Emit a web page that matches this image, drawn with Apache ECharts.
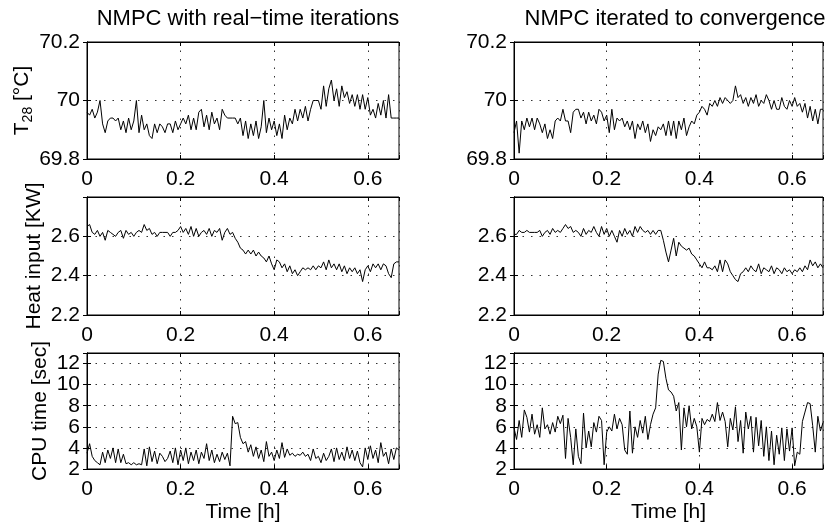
<!DOCTYPE html>
<html><head><meta charset="utf-8">
<script src="https://cdn.jsdelivr.net/npm/echarts@6/dist/echarts.min.js"></script>
<style>html,body{margin:0;padding:0;background:#fff}#c{width:826px;height:524px}</style>
</head><body><div id="c"></div><script>
// ---- data ----
const nSamples = 121;
const sampleStepHours = 1 / 180;
const timeMaxHours = 2 / 3;
const timeHours = Array.from({length: nSamples}, (_, i) => i * sampleStepHours);
const panelTitles = ['NMPC with real\u2212time iterations', 'NMPC iterated to convergence'];
const xAxisLabel = 'Time [h]';
const xTickValues = [0, 0.2, 0.4, 0.6];
const tempTicks = [69.8, 70, 70.2];
const heatTicks = [2.2, 2.4, 2.6];
const cpuTicks = [2, 4, 6, 8, 10, 12];

const tempRT = [69.96,69.95,69.97,69.94,69.96,70.0,69.92,69.89,69.93,69.94,
69.94,69.93,69.94,69.90,69.93,69.89,69.94,69.90,69.93,70.0,
69.89,69.95,69.90,69.92,69.88,69.87,69.92,69.89,69.92,69.91,
69.89,69.92,69.92,69.89,69.93,69.90,69.92,69.94,69.92,69.95,
69.90,69.94,69.90,69.96,69.97,69.91,69.95,69.90,69.96,69.92,
69.94,69.90,69.97,69.95,69.94,69.94,69.94,69.94,69.92,69.94,
69.88,69.93,69.87,69.92,69.88,69.93,69.87,69.91,70.0,69.89,
69.94,69.90,69.93,69.88,69.92,69.87,69.95,69.90,69.94,69.92,
69.97,69.93,69.97,69.94,69.98,69.93,69.97,70.0,70.0,70.0,
69.97,70.05,69.98,70.04,70.07,70.0,70.04,69.98,70.05,70.01,
70.03,69.99,70.02,69.98,70.02,69.97,70.02,69.97,70.01,69.95,
69.97,69.94,69.99,69.95,70.0,69.94,70.02,69.94,69.94,69.94,
69.94];
const tempConv = [69.89,69.93,69.82,69.93,69.90,69.94,69.91,69.94,69.90,69.94,
69.92,69.89,69.92,69.87,69.90,69.87,69.93,69.94,69.93,69.97,
69.93,69.93,69.89,69.96,69.97,69.97,69.94,69.96,69.92,69.96,
69.93,69.95,69.92,69.97,69.96,69.93,69.95,69.89,69.97,69.90,
69.94,69.93,69.94,69.91,69.93,69.90,69.93,69.87,69.92,69.90,
69.93,69.89,69.92,69.86,69.90,69.88,69.91,69.90,69.92,69.88,
69.93,69.88,69.93,69.87,69.93,69.90,69.94,69.88,69.91,69.93,
69.92,69.95,69.96,69.98,69.97,69.95,69.99,69.98,70.0,69.98,
70.01,69.99,70.01,70.0,69.99,70.0,70.05,70.01,70.02,69.99,
70.01,69.98,70.01,69.99,70.02,69.98,70.0,69.99,70.02,70.0,
69.97,70.0,69.97,69.97,70.01,69.98,69.97,70.0,69.98,70.01,
69.98,69.99,69.96,69.99,69.94,69.98,69.93,69.97,69.92,69.97,
69.97];
const heatRT = [2.65,2.66,2.62,2.61,2.63,2.60,2.62,2.58,2.63,2.62,
2.61,2.60,2.62,2.63,2.59,2.63,2.61,2.62,2.60,2.62,
2.63,2.62,2.66,2.63,2.64,2.61,2.62,2.60,2.62,2.62,
2.62,2.62,2.60,2.62,2.62,2.63,2.65,2.62,2.64,2.61,
2.65,2.60,2.64,2.60,2.62,2.63,2.61,2.64,2.60,2.63,
2.62,2.64,2.58,2.62,2.64,2.61,2.62,2.59,2.57,2.54,
2.53,2.51,2.53,2.51,2.53,2.50,2.52,2.50,2.49,2.47,
2.50,2.46,2.43,2.48,2.47,2.44,2.46,2.42,2.45,2.41,
2.43,2.40,2.42,2.44,2.43,2.44,2.43,2.45,2.43,2.45,
2.44,2.47,2.43,2.48,2.44,2.46,2.43,2.46,2.42,2.45,
2.41,2.44,2.42,2.44,2.41,2.43,2.37,2.43,2.45,2.42,
2.46,2.44,2.46,2.43,2.46,2.45,2.41,2.39,2.46,2.47,
2.47];
const heatConv = [2.61,2.61,2.63,2.62,2.62,2.63,2.62,2.62,2.62,2.62,
2.63,2.60,2.62,2.63,2.61,2.64,2.62,2.63,2.62,2.64,
2.66,2.64,2.65,2.62,2.63,2.62,2.60,2.64,2.61,2.63,
2.62,2.65,2.62,2.60,2.65,2.61,2.64,2.60,2.63,2.60,
2.57,2.63,2.60,2.64,2.61,2.63,2.60,2.65,2.62,2.65,
2.63,2.62,2.63,2.61,2.63,2.61,2.63,2.63,2.58,2.52,
2.47,2.53,2.59,2.50,2.57,2.55,2.54,2.53,2.54,2.51,
2.50,2.48,2.46,2.44,2.47,2.44,2.44,2.43,2.45,2.42,
2.48,2.42,2.48,2.46,2.42,2.40,2.38,2.37,2.41,2.42,
2.44,2.42,2.45,2.43,2.42,2.46,2.41,2.44,2.43,2.42,
2.45,2.41,2.44,2.43,2.41,2.44,2.42,2.43,2.41,2.43,
2.42,2.44,2.42,2.45,2.43,2.48,2.45,2.47,2.44,2.46,
2.44];
const cpuRT = [3.5,4.4,3.2,2.8,2.6,2.4,3.6,2.6,3.8,3.0,
4.0,2.6,3.9,2.6,3.4,2.5,2.6,2.4,2.6,2.4,
2.5,2.4,3.9,2.3,4.1,2.7,3.7,2.5,3.5,3.2,
2.7,3.0,3.7,2.6,4.0,2.4,3.8,2.8,4.0,2.5,
3.6,2.8,3.8,2.5,3.6,3.0,4.4,2.8,3.8,2.6,
3.4,2.7,3.6,2.9,3.5,2.3,7.0,6.3,6.4,5.0,
4.4,4.6,3.6,4.3,3.2,4.1,3.0,3.8,2.7,4.6,
3.2,3.6,2.8,3.8,3.0,4.5,3.1,3.9,3.3,3.5,
3.2,3.4,3.3,3.6,3.2,3.4,2.8,3.9,3.0,3.2,
2.6,3.5,2.8,3.2,3.9,2.7,4.0,2.9,3.6,2.8,
4.1,3.0,3.8,2.8,3.7,2.6,2.2,4.0,2.9,4.2,
3.0,3.8,2.6,4.5,3.2,3.6,2.5,3.9,2.9,4.0,
3.8];
const cpuConv = [5.9,4.8,6.6,5.0,7.6,6.9,5.5,7.2,5.3,6.2,
5.0,7.8,5.8,6.2,5.3,6.4,5.5,7.0,6.3,7.1,
3.0,6.8,5.0,2.4,5.8,3.2,2.5,7.3,4.0,5.6,
4.1,6.4,5.5,7.0,6.6,2.4,5.5,6.0,5.6,7.2,
5.8,6.8,6.2,3.8,3.4,7.5,3.5,6.0,5.0,6.6,
5.4,7.0,4.8,6.2,7.2,7.8,11.0,12.3,12.2,10.6,
9.5,9.3,8.9,7.5,8.3,3.8,7.8,6.0,8.0,5.8,
6.8,6.0,3.6,6.8,6.2,6.7,6.5,7.2,6.5,8.3,
6.6,7.4,6.5,4.1,6.8,5.7,7.9,4.6,6.6,3.5,
7.4,5.8,7.0,3.6,6.9,4.2,6.6,3.2,6.0,2.8,
5.6,2.4,5.2,3.4,5.9,2.8,5.8,3.7,5.9,2.3,
3.6,3.4,6.5,7.4,8.3,8.2,6.1,3.6,7.0,5.6,
6.4];

// ---- layout ----
const FONT = '"Liberation Sans", Arial, Helvetica, sans-serif';
const FS = 21;
const FS_TITLE = 22;
const colLeft = [87, 514];
const colWidth = 312;
const rowTop = [42, 197, 353];
const rowHeight = [117, 118, 118];

const rows = [
  {ticks: tempTicks, max: 70.2, data: [tempRT, tempConv],
   name: '{a|T}{s|28}{a| [°C]}', nameGap: 52},
  {ticks: heatTicks, max: 2.8, data: [heatRT, heatConv],
   name: 'Heat input [KW]', nameGap: 42},
  {ticks: cpuTicks, max: 13, data: [cpuRT, cpuConv],
   name: 'CPU time [sec]', nameGap: 36}
];

const grid = [], xAxis = [], yAxis = [], series = [];
const dotted = {color: '#333', width: 1, type: [1.5, 7]};
const near = (v, arr) => arr.some(t => Math.abs(t - v) < 1e-6);

rows.forEach((row, r) => {
  [0, 1].forEach(c => {
    const g = grid.length;
    grid.push({left: colLeft[c], top: rowTop[r], width: colWidth, height: rowHeight[r],
      show: true, borderColor: '#000', borderWidth: 1, backgroundColor: 'transparent'});
    const xi = xAxis.length;
    const step = row.ticks[1] - row.ticks[0];
    xAxis.push({type: 'value', gridIndex: g, min: 0, max: timeMaxHours, interval: 0.2,
      axisLine: {show: true, lineStyle: {color: '#000', width: 1}},
      axisTick: {show: true, inside: true, length: 4, lineStyle: {color: '#000'}},
      axisLabel: {show: true, fontSize: FS, fontFamily: FONT, color: '#000', margin: 10,
        formatter: v => near(v, xTickValues) ? String(+v.toFixed(1)) : ''},
      splitLine: {show: true, lineStyle: dotted},
      name: r === 2 ? xAxisLabel : '', nameLocation: 'middle', nameGap: 33,
      nameTextStyle: {fontSize: FS, fontFamily: FONT, color: '#000'}
    });
    xAxis.push({type: 'value', gridIndex: g, position: 'top', min: 0, max: timeMaxHours, interval: 0.2,
      axisLine: {show: true, lineStyle: {color: '#000'}},
      axisTick: {show: true, inside: true, length: 4, lineStyle: {color: '#000'}},
      axisLabel: {show: false}, splitLine: {show: false}});
    const yi = yAxis.length;
    yAxis.push({type: 'value', gridIndex: g, min: row.ticks[0], max: row.max, interval: step,
      axisLine: {show: true, lineStyle: {color: '#000'}},
      axisTick: {show: true, inside: true, length: 4, lineStyle: {color: '#000'}},
      axisLabel: {show: true, fontSize: FS, fontFamily: FONT, color: '#000', margin: 7,
        formatter: v => near(v, row.ticks) ? String(+v.toFixed(1)) : ''},
      splitLine: {show: true, lineStyle: dotted},
      name: c === 0 ? row.name : '', nameLocation: 'middle', nameRotate: 90, nameGap: row.nameGap,
      nameTextStyle: {fontSize: FS, fontFamily: FONT, color: '#000',
        rich: {a: {fontSize: FS, fontFamily: FONT, color: '#000'},
               s: {fontSize: 14, fontFamily: FONT, color: '#000', padding: [12, 0, 0, 0]}}}
    });
    yAxis.push({type: 'value', gridIndex: g, position: 'right', min: row.ticks[0], max: row.max, interval: step,
      axisLine: {show: true, lineStyle: {color: '#000'}},
      axisTick: {show: true, inside: true, length: 4, lineStyle: {color: '#000'}},
      axisLabel: {show: false}, splitLine: {show: false}});
    const vals = row.data[c];
    series.push({type: 'line', xAxisIndex: xi, yAxisIndex: yi, showSymbol: false, symbol: 'none',
      data: timeHours.map((t, i) => [t, vals[i]]),
      lineStyle: {color: '#000', width: 1}, silent: true, clip: true});
  });
});

const chart = echarts.init(document.getElementById('c'), null, {renderer: 'canvas'});
chart.setOption({
  animation: false,
  backgroundColor: '#fff',
  title: panelTitles.map((t, c) => ({text: t, left: colLeft[c] + colWidth / 2, top: 3,
    textAlign: 'center',
    textStyle: {fontSize: FS_TITLE, fontWeight: 'normal', fontFamily: FONT, color: '#000'}})),
  grid, xAxis, yAxis, series
});
</script></body></html>
